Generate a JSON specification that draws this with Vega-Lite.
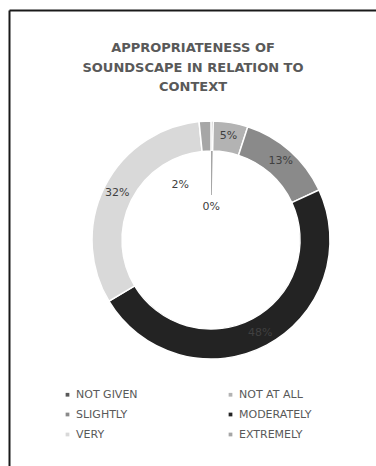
{
  "$schema": "https://vega.github.io/schema/vega-lite/v6.json",
  "width": 367,
  "height": 456,
  "autosize": {"type": "none"},
  "padding": {"left": 9, "top": 10, "right": 0, "bottom": 0},
  "background": "white",
  "view": {"stroke": null},
  "config": {"view": {"stroke": null}, "font": "DejaVu Sans"},
  "title": {
    "text": ["APPROPRIATENESS OF", "SOUNDSCAPE IN RELATION TO", "CONTEXT"],
    "font": "DejaVu Sans",
    "fontSize": 13,
    "fontWeight": "bold",
    "color": "#595959",
    "lineHeight": 19.5,
    "anchor": "start",
    "dx": 184,
    "align": "center",
    "frame": "group",
    "baseline": "top",
    "offset": -87
  },
  "data": {
    "values": [
      {"category": "NOT GIVEN", "rank": 1, "value": 0.003},
      {"category": "NOT AT ALL", "rank": 2, "value": 0.047},
      {"category": "SLIGHTLY", "rank": 3, "value": 0.131},
      {"category": "MODERATELY", "rank": 4, "value": 0.483},
      {"category": "VERY", "rank": 5, "value": 0.320},
      {"category": "EXTREMELY", "rank": 6, "value": 0.016}
    ]
  },
  "layer": [
    {
      "mark": {"type": "point", "opacity": 0},
      "encoding": {
        "x": {"datum": 0, "type": "quantitative", "axis": {"orient": "top", "domain": true, "domainColor": "#1a1a1a", "domainWidth": 2, "ticks": false, "labels": false, "grid": false, "title": null}},
        "y": {"datum": 0, "type": "quantitative", "axis": {"orient": "left", "domain": true, "domainColor": "#1a1a1a", "domainWidth": 2, "ticks": false, "labels": false, "grid": false, "title": null}}
      }
    },
    {
      "mark": {"type": "arc", "radius": 119, "radius2": 89, "x": 202, "y": 230, "stroke": "white", "strokeWidth": 1.5},
      "encoding": {
        "theta": {"field": "value", "type": "quantitative", "stack": true},
        "order": {"field": "rank", "type": "quantitative"},
        "color": {
          "field": "category",
          "type": "nominal",
          "scale": {
            "domain": ["NOT GIVEN", "SLIGHTLY", "VERY", "NOT AT ALL", "MODERATELY", "EXTREMELY"],
            "range": ["#595959", "#8a8a8a", "#d9d9d9", "#b3b3b3", "#232323", "#a6a6a6"]
          },
          "legend": {
            "orient": "none",
            "legendX": 53,
            "legendY": 379,
            "columns": 2,
            "columnPadding": 87,
            "rowPadding": 8,
            "symbolType": "square",
            "symbolSize": 14,
            "symbolStrokeWidth": 0,
            "labelFont": "DejaVu Sans",
            "labelFontSize": 11,
            "labelColor": "#595959",
            "labelOffset": 3,
            "padding": 0,
            "title": null
          }
        }
      }
    },
    {
      "mark": {"type": "arc", "radius": 89, "radius2": 45, "x": 202, "y": 230},
      "encoding": {
        "theta": {"field": "value", "type": "quantitative", "stack": true},
        "order": {"field": "rank", "type": "quantitative"},
        "fill": {"condition": {"test": "datum.category === 'NOT GIVEN'", "value": "#a6a6a6"}, "value": "transparent"}
      }
    },
    {
      "mark": {"type": "text", "radius": 105, "x": 202, "y": 230, "fontSize": 11, "fill": "#404040", "font": "DejaVu Sans"},
      "encoding": {
        "theta": {"field": "value", "type": "quantitative", "stack": true},
        "order": {"field": "rank", "type": "quantitative"},
        "text": {"condition": {"test": "datum.value < 0.03", "value": ""}, "field": "value", "type": "quantitative", "format": ".0%"}
      }
    },
    {
      "mark": {"type": "text", "radius": 33, "x": 202, "y": 230, "fontSize": 11, "fill": "#404040", "font": "DejaVu Sans"},
      "encoding": {
        "theta": {"field": "value", "type": "quantitative", "stack": true},
        "order": {"field": "rank", "type": "quantitative"},
        "text": {"condition": {"test": "datum.category !== 'NOT GIVEN'", "value": ""}, "field": "value", "type": "quantitative", "format": ".0%"}
      }
    },
    {
      "mark": {"type": "text", "radius": 55, "dx": -28, "x": 202, "y": 230, "fontSize": 11, "fill": "#404040", "font": "DejaVu Sans"},
      "encoding": {
        "theta": {"field": "value", "type": "quantitative", "stack": true},
        "order": {"field": "rank", "type": "quantitative"},
        "text": {"condition": {"test": "datum.category !== 'EXTREMELY'", "value": ""}, "field": "value", "type": "quantitative", "format": ".0%"}
      }
    }
  ]
}
